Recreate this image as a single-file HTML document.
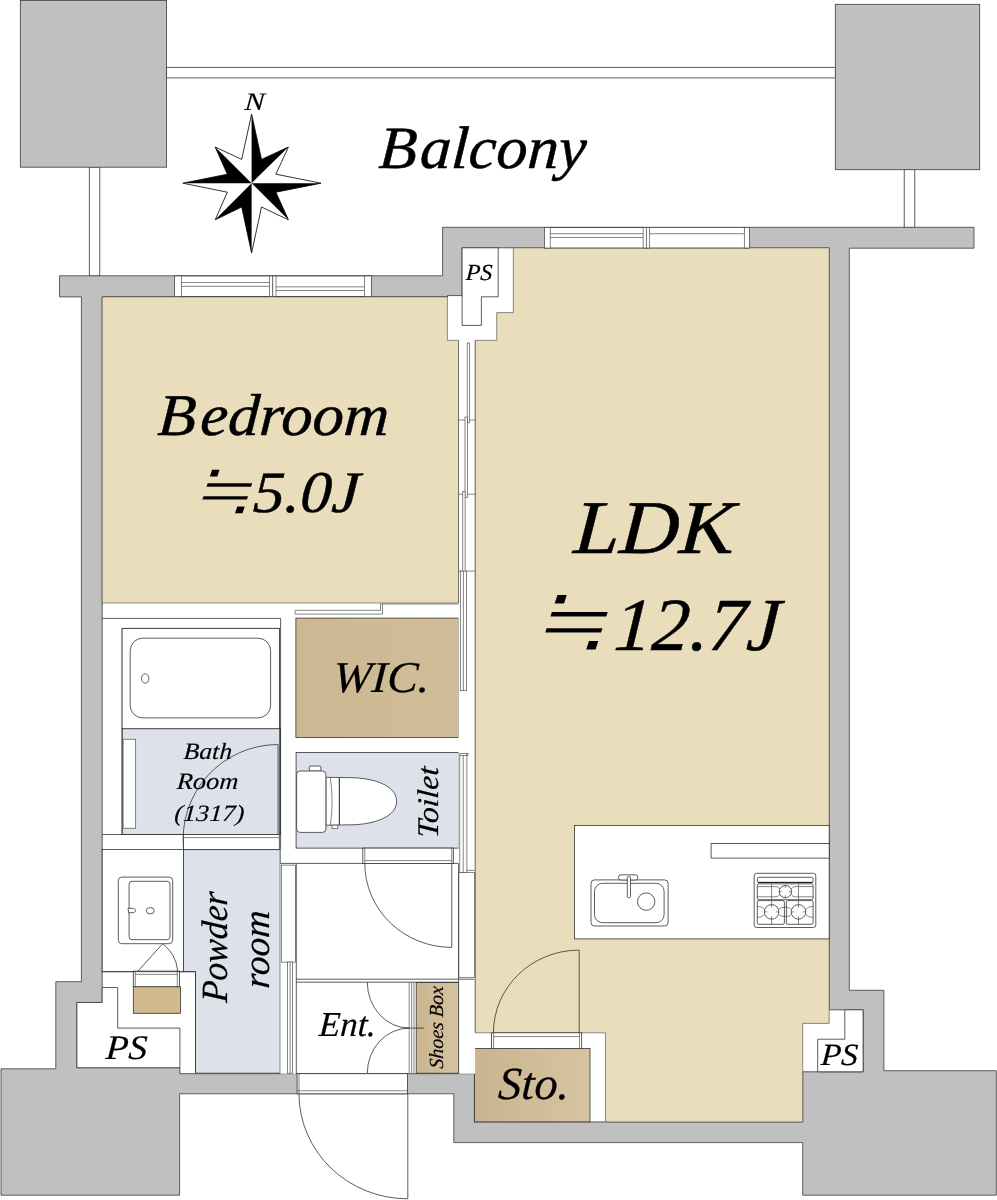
<!DOCTYPE html>
<html lang="ja">
<head>
<meta charset="utf-8">
<title>Floor plan 1LDK</title>
<style>
html,body{margin:0;padding:0;background:#fff;}
body{width:997px;height:1200px;overflow:hidden;}
svg{display:block;will-change:transform;}
text{font-family:"Liberation Serif","Noto Serif CJK SC","Noto Sans CJK JP",serif;font-style:italic;fill:#000;stroke:#000;stroke-width:.2;}
.big{stroke-width:.5;}
.sm{stroke-width:.15;}
.ap{font-family:"WenQuanYi Zen Hei","Noto Sans CJK JP",sans-serif;font-style:normal;stroke:none;}
.w{fill:#c0c0c0;stroke:#3c3c3c;stroke-width:.8;}
.l{fill:none;stroke:#333;stroke-width:.8;}
.lf{fill:none;stroke:#444;stroke-width:.65;}
.wh{fill:#fff;stroke:#333;stroke-width:.8;}
.whf{fill:#fff;stroke:#444;stroke-width:.65;}
.bg{fill:#e9ddbb;stroke:#444;stroke-width:.6;}
.tn{fill:url(#tan);stroke:#333;stroke-width:.8;}
.bl{fill:#dde1ea;stroke:#333;stroke-width:.8;}
</style>
</head>
<body>
<svg width="997" height="1200" viewBox="0 0 997 1200">
<defs>
<linearGradient id="tan" x1="0" y1="0" x2="1" y2="0">
<stop offset="0" stop-color="#c9b48e"/><stop offset="1" stop-color="#d6c4a1"/>
</linearGradient>
<linearGradient id="tanw" x1="0" y1="0" x2="1" y2="0">
<stop offset="0" stop-color="#ccb993"/><stop offset="1" stop-color="#d0bd99"/>
</linearGradient>
</defs>
<rect x="0" y="0" width="997" height="1200" fill="#fff"/>

<!-- ===== balcony railing / posts ===== -->
<g id="balcony">
<rect class="wh" x="166.5" y="67.3" width="669" height="10.6"/>
<rect class="wh" x="89.3" y="167" width="10.5" height="109"/>
<rect class="wh" x="904.2" y="169.5" width="10.6" height="58"/>
<rect class="w" x="20.3" y="0.4" width="146.3" height="166.8"/>
<rect class="w" x="835.3" y="4.3" width="144.4" height="165.4"/>
</g>

<!-- ===== walls (outer silhouette) ===== -->
<g id="walls">
<path class="w" d="M59.5 275.8H442.6V227.3H974V248.2H849.3V990.3H883.9V1070.7H996.3V1195.2H802.7V1142.6H453.8V1093.8H179.6V1195.2H1V1068.8H55.8V981.7H81.4V296.9H59.5Z"/>
<!-- interior cut-out -->
<path class="wh" d="M102.2 296.9H447.4V295.6H462.1V247.8H829.2V1009.8H863.1V1071.8H802.7V1121.9H474.4V1073.7H179.9V1067.7H76.9V1002.5H102.2Z"/>
</g>

<!-- ===== room fills ===== -->
<g id="rooms">
<!-- bedroom -->
<path class="bg" d="M102.2 296.9H447.4V340.3H458.5V603H102.2Z"/>
<!-- LDK -->
<path class="bg" d="M513.3 247.8H829.2V1023.4H802.7V1121.9H605.5V1032.8H475.1V340.3H496.7V312.6H513.3Z"/>
<!-- WIC -->
<rect class="tn" style="fill:url(#tanw)" x="295.9" y="618.1" width="162.9" height="119.3"/>
<!-- toilet -->
<rect class="bl" x="296.1" y="752.5" width="162.9" height="95.6"/>
<!-- bath wash area -->
<rect class="bl" x="122.1" y="728.7" width="158.5" height="105.8"/>
<!-- powder room -->
<path class="bl" d="M183.4 849.6H280.2V1073.2H195.5V971.7H183.4Z"/>
<!-- shoes box -->
<rect class="tn" x="416.2" y="982.5" width="42.4" height="90.7"/>
<!-- storage -->
<rect class="tn" x="474.4" y="1048.6" width="115.6" height="73.3"/>
<!-- laundry pan -->
<rect class="tn" style="fill:#d0ba8e" x="133.3" y="986.7" width="47.100" height="26.6"/>
</g>

<!-- ===== pipe spaces ===== -->
<g id="ps">
<path class="wh" d="M462.1 247.8H498.2V296.8H481.4V325.4H462.1Z"/>
<path class="wh" d="M844.8 1009.8H863.1V1071.8H817.7V1039.2H844.8Z"/>
<path class="wh" d="M76.9 1002.5H102.2V987.5H117.7V1028.1H179.9V1067.7H76.9Z"/>
</g>

<!-- ===== windows ===== -->
<g id="windows">
<!-- bedroom window -->
<rect class="wh" x="174.6" y="276" width="196.8" height="20.4"/>
<rect class="whf" x="178.8" y="282.4" width="91.6" height="3.8"/>
<rect class="whf" x="272.1" y="286.9" width="94" height="3.8"/>
<rect class="whf" x="174.6" y="276" width="7" height="20.4"/>
<rect class="whf" x="364.4" y="276" width="7" height="20.4"/>
<rect class="whf" x="269.6" y="276" width="3.2" height="20.4"/>
<rect class="whf" x="272.8" y="276" width="3.2" height="20.4"/>
<!-- LDK window -->
<rect class="wh" x="544.4" y="227.5" width="205.1" height="20.5"/>
<rect class="whf" x="548" y="233.8" width="97.5" height="3.7"/>
<rect class="whf" x="649.6" y="227.5" width="94.7" height="6.3"/>
<rect class="whf" x="544.4" y="227.5" width="5.8" height="20.5"/>
<rect class="whf" x="744.3" y="227.5" width="5.2" height="20.5"/>
<rect class="whf" x="643.1" y="227.5" width="3.2" height="20.5"/>
<rect class="whf" x="646.3" y="227.5" width="3.3" height="20.5"/>
</g>

<!-- ===== sliding partition bedroom / LDK ===== -->
<g id="partition">
<rect x="458.5" y="340.3" width="16.6" height="733.4" fill="#fff"/>
<line class="lf" x1="458.5" y1="340.3" x2="458.5" y2="603"/>
<line class="lf" x1="475.1" y1="340.3" x2="475.1" y2="1032.8"/>
<line class="lf" x1="458.5" y1="420" x2="475.1" y2="420"/>
<line class="lf" x1="458.5" y1="494.2" x2="475.1" y2="494.2"/>
<line class="lf" x1="458.5" y1="571.1" x2="475.1" y2="571.1"/>
<rect class="whf" x="467.2" y="343" width="2.4" height="79.8"/>
<rect class="whf" x="465" y="417" width="2.3" height="80.5"/>
<rect class="whf" x="462.8" y="491.3" width="2.3" height="82"/>
<rect class="whf" x="460.3" y="571.1" width="6.2" height="119.6"/>
<line class="lf" x1="463.4" y1="571.1" x2="463.4" y2="690.7"/>
<!-- toilet / hall side doors -->
<rect class="whf" x="459.8" y="753.4" width="7.1" height="119.2"/>
<line class="lf" x1="463.2" y1="755.5" x2="463.2" y2="872.6"/>
<path class="lf" d="M459.8 755.5H468V753.400H466.9M466.9 870.4H474.4"/>
<rect class="whf" x="458.8" y="872.6" width="15.6" height="104.7"/>
</g>

<!-- ===== bath unit ===== -->
<g id="bath">
<line class="l" x1="102.2" y1="618.4" x2="280.6" y2="618.4"/>
<line class="l" x1="280.6" y1="618.4" x2="280.6" y2="849.6"/>
<path class="l" d="M122.1 834.5V628.4H279.6V834.5"/>
<line class="l" x1="102.2" y1="834.5" x2="280.6" y2="834.5"/>
<rect class="wh" x="122.1" y="628.4" width="157.5" height="100.3"/>
<rect class="wh" x="130.2" y="638.2" width="140.4" height="79.7" rx="12.5" ry="12.5"/>
<ellipse class="wh" cx="145.2" cy="678.5" rx="3.7" ry="4.7"/>
<rect class="whf" x="123.1" y="739.2" width="12.6" height="89"/>
<!-- bath door -->
<path class="l" d="M278.1 834.5V744.5A95 95 0 0 0 183.6 849.6"/>
<rect class="wh" x="183.6" y="834.5" width="95.7" height="15.1"/>
<line class="lf" x1="183.6" y1="837.6" x2="279.3" y2="837.6"/>
</g>

<!-- ===== WIC door ===== -->
<g id="wicdoor">
<path class="lf" d="M382.5 604H458.5"/>
<path class="whf" d="M295.2 610.3H380.5V604H382.5V614.1H295.2Z"/>
</g>

<!-- ===== toilet ===== -->
<g id="toilet">
<rect class="wh" x="309.3" y="766.1" width="11.6" height="5" rx="1"/>
<path class="wh" d="M325.9 777.3L352 777.7C374 778.2 396.600 785.5 396.600 801.3C396.600 817 374 824.3 352 824.8L325.9 825.2Z"/>
<rect class="whf" x="332.1" y="825.2" width="5.7" height="3.2"/>
<path class="lf" d="M330.3 777.4C332.600 793 332.600 809.500 330.3 825.100"/>
<line x1="339.3" y1="777.5" x2="339.3" y2="825" stroke="#222" stroke-width="1"/>
<rect class="wh" x="296.6" y="771" width="29.300" height="61.4" rx="3.5" ry="3.5"/>
</g>

<!-- ===== powder room fittings ===== -->
<g id="powder">
<rect class="wh" x="102.2" y="849.6" width="81.2" height="122.1"/>
<rect class="wh" x="118.3" y="877.1" width="54.4" height="66.6" rx="3.5" ry="3.5"/>
<rect class="wh" x="129.1" y="881.3" width="40.9" height="58.4" rx="3" ry="3"/>
<ellipse class="wh" cx="150.3" cy="910.7" rx="4" ry="3.2"/>
<path class="wh" d="M128 908.3H132.500C136.700 908.700 136.700 912.300 132.500 912.700H128.600Z"/>
<path class="l" d="M138 971.1L162.700 943.7A39 39 0 0 1 177.700 971.1"/>
<rect class="wh" x="133.3" y="971.1" width="46.3" height="15.6"/>
<line class="lf" x1="135.3" y1="974.4" x2="177.3" y2="974.4"/>
<line class="lf" x1="135.3" y1="971.7" x2="135.3" y2="986.7"/>
<line class="lf" x1="177.3" y1="971.1" x2="177.3" y2="986.7"/>
<path class="l" d="M102.2 971.7H195.500V1073.2"/>
<!-- sliding door powder/hall -->
<rect x="280.5" y="863.4" width="15.8" height="210.3" fill="#fff"/>
<rect class="whf" x="281.3" y="865.1" width="14.2" height="97"/>
<rect class="whf" x="287.6" y="962" width="5" height="111.2"/>
<line class="lf" x1="290.100" y1="962" x2="290.100" y2="1073.2"/>
</g>

<!-- ===== hall / entrance ===== -->
<g id="hall">
<line class="l" x1="280.2" y1="863.4" x2="458.6" y2="863.4"/>
<line class="l" x1="296.3" y1="863.4" x2="296.3" y2="1073.7"/>
<line class="l" x1="458.6" y1="863.4" x2="458.600" y2="1073.7"/>
<line class="l" x1="296.3" y1="979.2" x2="474" y2="979.2"/>
<line class="l" x1="296.3" y1="982.2" x2="458.6" y2="982.2"/>
<!-- toilet door -->
<rect class="wh" x="362.8" y="848.1" width="90.5" height="15.3"/>
<line class="lf" x1="364.8" y1="860.6" x2="451.8" y2="860.6"/>
<line class="lf" x1="364.8" y1="848.1" x2="364.8" y2="863.4"/>
<line class="lf" x1="451.8" y1="848.1" x2="451.8" y2="863.4"/>
<path class="l" d="M364.8 863.4A87 84 0 0 0 451.8 947.4V863.4"/>
<!-- entrance double door -->
<path class="l" d="M367.3 982.2A41.900 45.900 0 0 0 409.2 1028.100"/>
<path class="l" d="M367.3 1073.2A41.900 45.100 0 0 1 409.2 1028.100"/>
<line class="l" x1="405.4" y1="1028.100" x2="424.2" y2="1028.100"/>
<line class="lf" x1="409.2" y1="982.2" x2="409.2" y2="1073.2"/>
<line class="lf" x1="411.7" y1="982.2" x2="411.7" y2="1073.2"/>
<line class="lf" x1="414" y1="982.2" x2="414" y2="1073.2"/>
<!-- front door -->
<rect class="wh" x="297.1" y="1073.7" width="110.3" height="20.1"/>
<line class="lf" x1="297.1" y1="1090.8" x2="407.4" y2="1090.8"/>
<line class="lf" x1="299" y1="1073.7" x2="299" y2="1093.8"/>
<path class="l" d="M299 1093.8A108.800 105 0 0 0 407.8 1198.8V1093.8"/>
</g>

<!-- ===== storage door ===== -->
<g id="sto">
<rect class="wh" x="491.4" y="1032.8" width="90.3" height="15.8"/>
<line class="lf" x1="493.6" y1="1036.6" x2="579.5" y2="1036.6"/>
<line class="lf" x1="493.6" y1="1032.8" x2="493.6" y2="1048.6"/>
<line class="lf" x1="579.5" y1="1032.8" x2="579.5" y2="1048.6"/>
<path class="l" d="M579.2 1032.8V950.100A85.800 82.700 0 0 0 493.4 1032.8"/>
</g>

<!-- ===== kitchen ===== -->
<g id="kitchen">
<rect class="wh" x="574.4" y="825.6" width="254.8" height="113.3"/>
<rect class="wh" x="711.1" y="843.6" width="118.1" height="14.5"/>
<!-- sink -->
<rect class="wh" x="591" y="879.9" width="77.1" height="46.1" rx="3.5" ry="3.5"/>
<rect class="wh" x="594.5" y="883.3" width="69.6" height="39.4" rx="8" ry="8"/>
<circle class="wh" cx="646.2" cy="901.6" r="8.7"/>
<rect class="wh" x="618.4" y="874.8" width="19.5" height="5.2" rx="2.6" ry="2.6"/>
<rect class="wh" x="627.3" y="876.5" width="3.2" height="21.1" rx="1.2" ry="1.2"/>
<!-- stove -->
<rect class="wh" x="754.2" y="873.3" width="61.6" height="54.2" rx="2.5" ry="2.5"/>
<rect class="wh" x="757.3" y="877.3" width="55.8" height="5" rx="1.5" ry="1.5"/>
<line x1="758" y1="882.5" x2="812.5" y2="882.5" stroke="#222" stroke-width="1.2"/>
<rect class="wh" x="757.3" y="883.8" width="55.8" height="15.9" rx="1.5" ry="1.5"/>
<rect class="wh" x="757.3" y="900.6" width="27.100" height="23.7" rx="1.5" ry="1.5"/>
<rect class="wh" x="786.4" y="900.6" width="26.7" height="23.7" rx="1.5" ry="1.5"/>
<path class="lf" d="M771.6 883.8V899.7M798.5 883.8V899.7M771.6 900.6V924.3M798.5 900.6V924.3"/>
<path class="lf" d="M757.3 886.6H776C778 886.6 779 888 779.5 889M791.3 889C792 888 793 886.6 795 886.6H813.1M757.3 896.8H776C778 896.8 779 895.5 779.5 894.5M791.3 894.5C792 895.5 793 896.8 795 896.8H813.1"/>
<path class="lf" d="M757.3 906.5C761 906.5 763 907.5 764.500 909.500M757.3 917.3C761 917.3 763 916.3 764.5 914.3M778.7 909.5C780.5 906.5 789.5 906.5 791.3 909.5M778.7 914.3C780.5 917.3 789.5 917.3 791.3 914.3M813.1 906.5C809.5 906.5 807.500 907.5 805.8 909.5M813.1 917.3C809.5 917.3 807.5 916.3 805.8 914.3"/>
<circle class="wh" cx="785.4" cy="891.6" r="6.2"/>
<circle class="wh" cx="771.6" cy="911.9" r="7.3"/>
<circle class="wh" cx="798.5" cy="911.9" r="7.3"/>
<path class="lf" d="M785.4 885.4V888M785.4 895.2V897.8M779.2 891.6H781.8M789 891.6H791.6M771.6 904.6V907.6M771.6 916.2V919.2M764.3 911.9H767.3M775.9 911.9H778.9M798.5 904.6V907.6M798.5 916.2V919.2M791.2 911.9H794.2M802.8 911.9H805.8"/>
</g>

<!-- ===== compass ===== -->
<g id="compass" transform="translate(251.6 183.2)">
<path d="M0 -69.200L9.9 -23.8L36.8 -36.200L24.3 -9L69.4 0L24.3 9L36.8 36.6L9.9 23.8L0 69.800L-9.900 23.8L-36.400 36.600L-24.300 9L-68.800 0L-24.300 -9L-36.400 -36.200L-9.900 -23.800Z" fill="#fff" stroke="#000" stroke-width=".8" stroke-linejoin="miter"/>
<path d="M0 0L0 -69.200L9.9 -23.8L36.8 -36.200Z" fill="#000"/>
<path d="M0 0L69.400 0L24.3 9L36.8 36.600Z" fill="#000"/>
<path d="M0 0L0 69.800L-9.900 23.8L-36.400 36.600Z" fill="#000"/>
<path d="M0 0L-68.800 0L-24.300 -9L-36.400 -36.200Z" fill="#000"/>
</g>

<!-- ===== labels ===== -->
<g id="labels">
<text transform="translate(244.3 109.5) skewX(-3.5)" font-size="25" textLength="20" lengthAdjust="spacingAndGlyphs" class="sm">N</text>
<text transform="translate(378 168.3) skewX(-3.5) scale(1.04 1)" font-size="60" class="big">B<tspan dx="3">alcony</tspan></text>
<text transform="translate(157 435.2) skewX(-3.5) scale(1.06 1)" font-size="59" class="big">B<tspan dx="4">edroom</tspan></text>
<text class="ap" font-size="71" transform="translate(190 511.6) skewX(-18) scale(1.085 1)">≒</text>
<text transform="translate(252.500 511.8) skewX(-3.5)" font-size="59" textLength="106" lengthAdjust="spacingAndGlyphs" class="big">5.0J</text>
<text transform="translate(572.7 552.8) skewX(-3.5)" font-size="76" textLength="160.5" lengthAdjust="spacingAndGlyphs" class="big">LDK</text>
<text class="ap" font-size="89" transform="translate(529.7 648) skewX(-18) scale(1.085 1)">≒</text>
<text transform="translate(613 649.7) skewX(-3.5)" font-size="75" textLength="166" lengthAdjust="spacingAndGlyphs" class="big">12.7J</text>
<text transform="translate(332.4 692.4) skewX(-3.5)" font-size="44" textLength="96.5" lengthAdjust="spacingAndGlyphs">WIC.</text>
<text transform="translate(183.3 758.5) skewX(-3.5)" font-size="23.5" textLength="48.4" lengthAdjust="spacingAndGlyphs" class="sm">Bath</text>
<text transform="translate(176.5 788.9) skewX(-3.5)" font-size="23.5" textLength="61.5" lengthAdjust="spacingAndGlyphs" class="sm">Room</text>
<text transform="translate(174 821.2) skewX(-3.5)" font-size="23.5" textLength="70" lengthAdjust="spacingAndGlyphs" class="sm">(1317)</text>
<text transform="translate(438.3 838.3) rotate(-90) skewX(-3.5)" font-size="30" textLength="71" lengthAdjust="spacingAndGlyphs">Toilet</text>
<text transform="translate(226.8 1003) rotate(-90) skewX(-3.5)" font-size="37" textLength="110.8" lengthAdjust="spacingAndGlyphs">Powder</text>
<text transform="translate(269.4 989) rotate(-90) skewX(-3.5)" font-size="37" textLength="78" lengthAdjust="spacingAndGlyphs">room</text>
<text transform="translate(105.2 1058.9) skewX(-3.5)" font-size="34.5" textLength="41.4" lengthAdjust="spacingAndGlyphs">PS</text>
<text transform="translate(318.5 1035.6) skewX(-3.5)" font-size="35" textLength="57" lengthAdjust="spacingAndGlyphs">Ent.</text>
<text transform="translate(443 1069) rotate(-90) skewX(-3.5)" font-size="20" class="sm">Shoes Box</text>
<text transform="translate(497.5 1098.5) skewX(-3.5)" font-size="46" textLength="71" lengthAdjust="spacingAndGlyphs">Sto.</text>
<text transform="translate(465.5 280) skewX(-3.5)" font-size="23" textLength="26.5" lengthAdjust="spacingAndGlyphs">PS</text>
<text transform="translate(820.5 1064.8) skewX(-3.5)" font-size="31" textLength="37" lengthAdjust="spacingAndGlyphs">PS</text>
</g>
</svg>
</body>
</html>
